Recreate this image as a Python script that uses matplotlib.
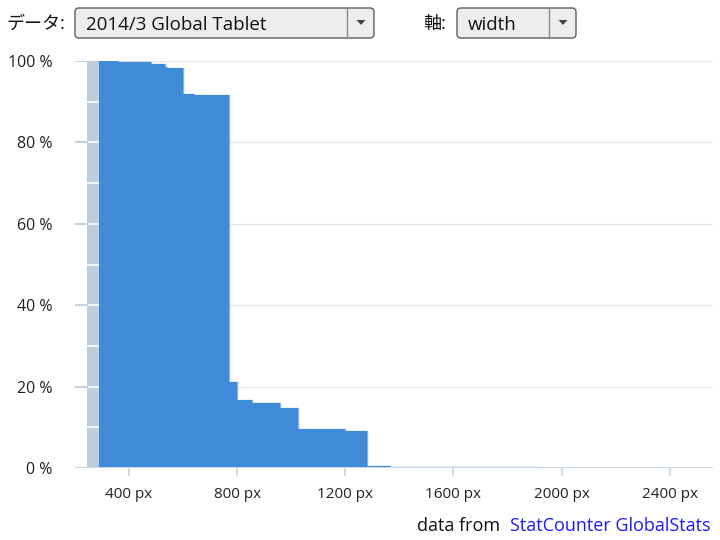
import matplotlib
matplotlib.use("Agg")
import matplotlib.pyplot as plt
from matplotlib.patches import FancyBboxPatch, Polygon
from matplotlib import transforms

plt.rcParams['font.family'] = ['Open Sans', 'Noto Sans CJK JP', 'DejaVu Sans']

# screen width boundaries (px) and share of screens at least that wide (%)
widths = [290, 360, 480, 533, 540, 600, 640, 768, 800, 854, 960, 1024,
          1200, 1280, 1366, 1920, 2560]
share = [100.0, 99.8, 99.2, 98.5, 98.3, 91.9, 91.7, 21.1, 16.8, 15.9,
         14.8, 9.5, 9.2, 0.5, 0.25, 0.05]
x_ticks = [400, 800, 1200, 1600, 2000, 2400]
y_ticks = [0, 20, 40, 60, 80, 100]
data_label = "2014/3 Global Tablet"
axis_label = "width"

W, H = 720, 540
fig = plt.figure(figsize=(7.2, 5.4), dpi=100)

# main chart
ax = fig.add_axes([75 / W, 1 - 468 / H, 638 / W, (468 - 61) / H])
ax.set_xlim(200, 2560)
ax.set_ylim(0, 100)

blue = '#3f8bd8'
ax.fill_between(widths, share + [share[-1]], step='post', color=blue, lw=0, zorder=3)
ax.step(widths, share + [share[-1]], where='post', color='#8ab5e6', lw=1, zorder=2.9)

# grid lines
for y in y_ticks[1:]:
    ax.axhline(y, xmin=0.019, xmax=1, color='#e8e8e8', lw=1, zorder=1)

# grey band at the left with white 10 % marks
bt = transforms.blended_transform_factory(ax.transAxes, ax.transData)
ax.fill_between([0.019, 0.0376], 0, 100.5, transform=bt, color='#bccddc', lw=0, zorder=2)
for y in range(10, 100, 10):
    ax.plot([0.019, 0.0376], [y, y], transform=bt, color='white', lw=1.2, zorder=2.5)
for y in y_ticks:
    ax.plot([0, 0.019], [y, y], transform=bt, color='#c3d2e2', lw=1.5, zorder=2.5)

for s in ax.spines.values():
    s.set_visible(False)
ax.axhline(0, color='#c8d6e6', lw=1.5, zorder=4)

ax.set_xticks(x_ticks)
ax.set_xticklabels([f"{v} px" for v in x_ticks])
ax.set_yticks(y_ticks)
ax.set_yticklabels([f"{v} %" for v in y_ticks])
ax.tick_params(axis='x', length=6, width=1.2, color='#c8d6e6', pad=8,
               labelsize=11, labelcolor='#222222')
ax.tick_params(axis='y', length=0, pad=16, labelsize=11.5, labelcolor='#222222')

# overlay for the controls and the credit line
ov = fig.add_axes([0, 0, 1, 1])
ov.set_xlim(0, W)
ov.set_ylim(H, 0)
ov.axis('off')


def dropdown(x0, x1, text, label, label_x):
    box = FancyBboxPatch((x0, 8), x1 - x0, 30,
                         boxstyle='round,pad=0,rounding_size=4',
                         fc='#ededed', ec='#5e5e5e', lw=1)
    ov.add_patch(box)
    ov.plot([x1 - 27, x1 - 27], [8, 38], color='#8a8a8a', lw=1)
    cx = x1 - 13
    ov.add_patch(Polygon([(cx - 4.5, 20), (cx + 4.5, 20), (cx, 25)],
                         closed=True, fc='#444444', ec='none'))
    ov.text(x0 + 11, 25, text, fontsize=13.5, va='center', ha='left', color='#111111')
    ov.text(label_x, 24, label, fontsize=13, va='center', ha='left', color='#111111')


dropdown(75, 374, data_label, "データ:", 7)
dropdown(457, 576, axis_label, "軸:", 423)

ov.text(500, 526, "data from", fontsize=13, ha='right', va='center', color='#111111')
ov.text(510, 526, "StatCounter GlobalStats", fontsize=13, ha='left', va='center',
        color='#1a1aff')

fig.savefig("out.png", dpi=100)
